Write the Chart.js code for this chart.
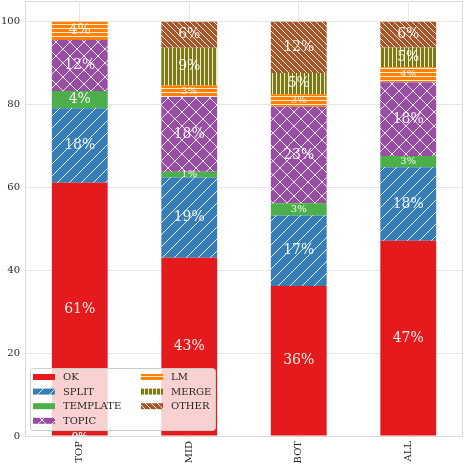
<!DOCTYPE html>
<html>
<head>
<meta charset="utf-8">
<script src="https://cdn.jsdelivr.net/npm/chart.js@4"></script>
<style>
    html, body { margin: 0; padding: 0; background: #fff; }
    #wrap { width: 464px; height: 464px; }
</style>
</head>
<body>
<div id="wrap"><canvas id="chart" width="464" height="464"></canvas></div>
<script>
// values (percent of each group)
const categories = ['TOP', 'MID', 'BOT', 'ALL'];
const seriesNames = ['OK', 'SPLIT', 'TEMPLATE', 'TOPIC', 'LM', 'MERGE', 'OTHER'];
const okValues = [61.1, 43.0, 36.2, 47.1];
const splitValues = [18.0, 19.4, 17.0, 17.8];
const templateValues = [4.2, 1.4, 3.0, 2.7];
const topicValues = [12.3, 18.0, 23.3, 17.8];
const lmValues = [4.4, 2.8, 3.0, 3.6];
const mergeValues = [0, 9.1, 5.1, 4.8];
const otherValues = [0, 6.3, 12.4, 6.2];
const yTicks = [0, 20, 40, 60, 80, 100];

const FONT = "'DejaVu Serif', 'Liberation Serif', serif";

function makeHatch(color, kind, size) {
    const c = document.createElement('canvas');
    c.width = size;
    c.height = size;
    const g = c.getContext('2d');
    g.fillStyle = color;
    g.fillRect(0, 0, size, size);
    if (kind) {
        g.strokeStyle = 'rgba(255,255,255,0.85)';
        g.lineWidth = 1;
        g.beginPath();
        for (const o of [-size, 0, size]) {
            if (kind === '/' || kind === 'x') {
                g.moveTo(o, size);
                g.lineTo(o + size, 0);
            }
            if (kind === '\\' || kind === 'x') {
                g.moveTo(o, 0);
                g.lineTo(o + size, size);
            }
        }
        if (kind === '|') {
            g.moveTo(0.5, 0);
            g.lineTo(0.5, size);
        }
        if (kind === '-') {
            g.moveTo(0, 0.5);
            g.lineTo(size, 0.5);
        }
        g.stroke();
    }
    return document.getElementById('chart').getContext('2d').createPattern(c, 'repeat');
}

const fills = [
    '#e41a1c',
    makeHatch('#377eb8', '/', 12),
    '#4daf4a',
    makeHatch('#984ea3', 'x', 14),
    makeHatch('#ff7f00', '-', 4),
    makeHatch('#7d7a13', '|', 4),
    makeHatch('#a65628', '\\', 6)
];
const allValues = [okValues, splitValues, templateValues, topicValues, lmValues, mergeValues, otherValues];

const datasets = [];
for (let i = 0; i < seriesNames.length; i++) {
    datasets.push({
        label: seriesNames[i],
        data: allValues[i],
        backgroundColor: fills[i],
        borderWidth: 0,
        categoryPercentage: 1,
        barPercentage: 0.51
    });
}

// percent text in the middle of each segment
const barLabels = {
    id: 'barLabels',
    afterDatasetsDraw(chart) {
        const ctx = chart.ctx;
        const area = chart.chartArea;
        const yScale = chart.scales.y;
        ctx.save();
        ctx.beginPath();
        ctx.rect(area.left, area.top, area.right - area.left, area.bottom - area.top);
        ctx.clip();
        ctx.fillStyle = 'rgba(255,255,255,0.92)';
        ctx.textAlign = 'center';
        ctx.textBaseline = 'middle';
        chart.data.datasets.forEach((ds, i) => {
            const meta = chart.getDatasetMeta(i);
            meta.data.forEach((bar, j) => {
                const v = ds.data[j];
                let y = (bar.y + bar.base) / 2;
                if (v === 0) y = yScale.getPixelForValue(0);
                ctx.font = (v < 4 ? '10px ' : '14px ') + FONT;
                ctx.fillText(Math.round(v) + '%', bar.x, y);
            });
        });
        ctx.restore();
    }
};

// frame round the plot
const frame = {
    id: 'frame',
    beforeDatasetsDraw(chart) {
        const a = chart.chartArea;
        const ctx = chart.ctx;
        ctx.save();
        ctx.strokeStyle = '#d9d9d9';
        ctx.lineWidth = 1;
        ctx.strokeRect(a.left + 0.5, a.top + 0.5, a.right - a.left - 1, a.bottom - a.top);
        ctx.restore();
    }
};

// two column legend in the lower left corner
const boxLegend = {
    id: 'boxLegend',
    afterDraw(chart) {
        const ctx = chart.ctx;
        ctx.save();
        ctx.fillStyle = 'rgba(255,255,255,0.8)';
        ctx.strokeStyle = '#cccccc';
        ctx.lineWidth = 1;
        ctx.beginPath();
        ctx.roundRect(30.5, 368.5, 185, 62, 3);
        ctx.fill();
        ctx.stroke();

        ctx.font = '10px ' + FONT;
        ctx.textBaseline = 'middle';
        ctx.textAlign = 'left';
        for (let i = 0; i < seriesNames.length; i++) {
            const col = i < 4 ? 0 : 1;
            const row = i < 4 ? i : i - 4;
            const sx = col === 0 ? 33 : 141;
            const tx = col === 0 ? 63 : 171;
            const cy = 377 + row * 14.6;
            ctx.fillStyle = fills[i];
            ctx.fillRect(sx, cy - 3, 22, 6);
            ctx.fillStyle = '#262626';
            ctx.fillText(seriesNames[i], tx, cy + 0.5);
        }
        ctx.restore();
    }
};

new Chart(document.getElementById('chart').getContext('2d'), {
    type: 'bar',
    data: {
        labels: categories,
        datasets: datasets
    },
    options: {
        responsive: false,
        animation: false,
        layout: {
            padding: { top: 1, right: 1, left: 0, bottom: 0 }
        },
        plugins: {
            legend: { display: false },
            tooltip: { enabled: false }
        },
        scales: {
            x: {
                stacked: true,
                afterFit(scale) {
                    scale.height = 28;
                    scale.paddingLeft = 0;
                    scale.paddingRight = 0;
                },
                grid: {
                    offset: false,
                    color: '#e6e6e6',
                    drawTicks: false
                },
                border: { display: false },
                ticks: {
                    minRotation: 90,
                    maxRotation: 90,
                    padding: 5,
                    color: '#262626',
                    font: { family: FONT, size: 10 }
                }
            },
            y: {
                stacked: true,
                min: 0,
                max: 105,
                afterFit(scale) {
                    scale.width = 25;
                    scale.paddingTop = 0;
                    scale.paddingBottom = 0;
                },
                afterBuildTicks(scale) {
                    scale.ticks = yTicks.map(v => ({ value: v }));
                },
                grid: {
                    color: '#e6e6e6',
                    drawTicks: false
                },
                border: { display: false },
                ticks: {
                    padding: 5,
                    color: '#262626',
                    font: { family: FONT, size: 10 }
                }
            }
        }
    },
    plugins: [frame, barLabels, boxLegend]
});
</script>
</body>
</html>
